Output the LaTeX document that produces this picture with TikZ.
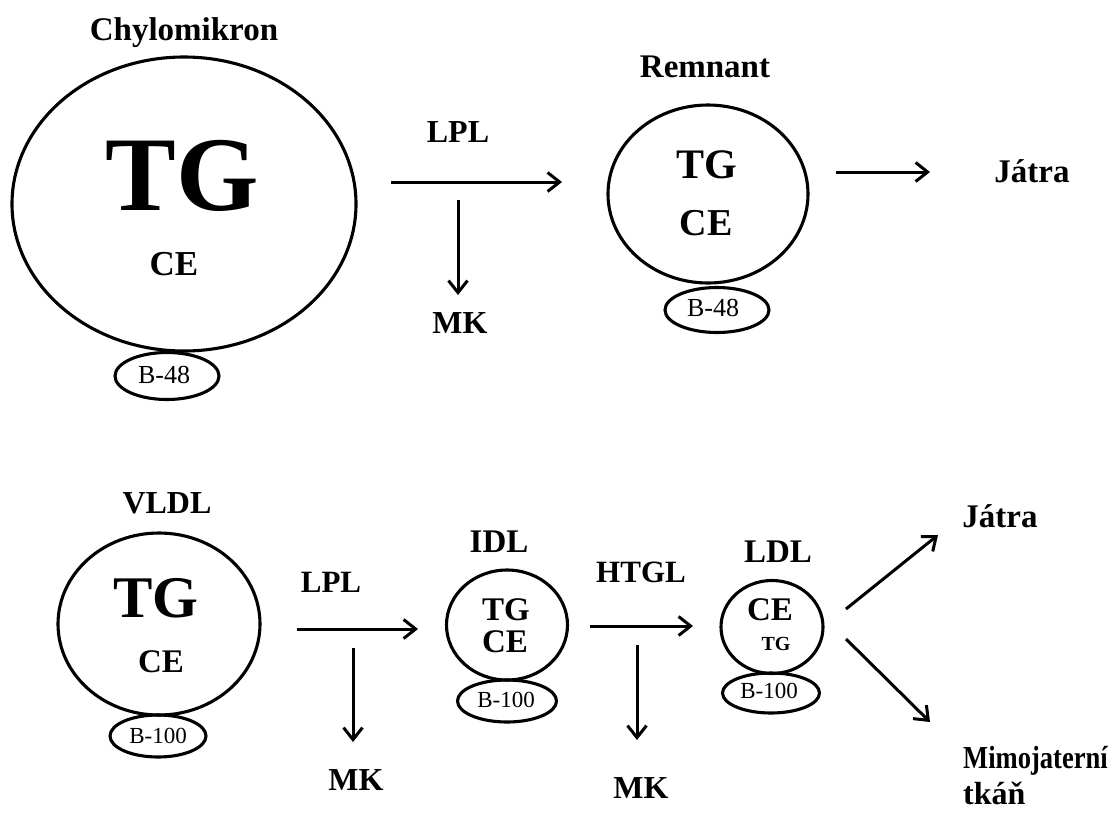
\documentclass[tikz,border=0pt]{standalone}
\usepackage{fontspec}
\setmainfont{Liberation Serif}
\usetikzlibrary{arrows.meta,shapes.geometric}
\begin{document}
\begin{tikzpicture}[x=1pt,y=-1pt,
  lbl/.style={anchor=base,inner sep=0pt,font=\bfseries\fontsize{#1}{#1}\selectfont},
  apo/.style={anchor=base,inner sep=0pt,font=\fontsize{#1}{#1}\selectfont},
  part/.style={draw,ellipse,line width=3.1pt,inner sep=0pt},
  flow/.style={line width=3pt,-{Straight Barb[length=12pt,width=19pt,line width=3pt]}}]
\useasboundingbox (0,0) rectangle (1111,812);
% ---------- top row ----------
\node[part,minimum width=344pt,minimum height=294pt] (chylo) at (184,204) {};
\node[part,minimum width=104pt,minimum height=47pt] (chyloB) at (167,376) {};
\node[lbl=33] (chyloT) at (184,40) {Chylomikron};
\node[lbl=106] (chyloTG) at (182,210) {TG};
\node[lbl=35] (chyloCE) at (174,275) {CE};
\node[apo=26] (chyloBt) at (164,383) {B-48};

\node[part,minimum width=200pt,minimum height=178pt] (rem) at (708,194) {};
\node[part,minimum width=104pt,minimum height=45pt] (remB) at (717,310) {};
\node[lbl=33] (remT) at (705,77) {Remnant};
\node[lbl=42] (remTG) at (707,178) {TG};
\node[lbl=38] (remCE) at (706,235) {CE};
\node[apo=26] (remBt) at (713,316) {B-48};

\node[lbl=32] (lpl1) at (458,142) {LPL};
\node[lbl=32] (mk1) at (460,333) {MK};
\node[lbl=33] (jat1) at (1032,182) {Játra};

\coordinate (a1s) at (391,182); \coordinate (a1e) at (562,182);
\coordinate (a2s) at (458,200); \coordinate (a2e) at (458,295);
\coordinate (a3s) at (836,172); \coordinate (a3e) at (930,172);
\draw[flow] (a1s) -- (a1e);
\draw[flow] (a2s) -- (a2e);
\draw[flow] (a3s) -- (a3e);
% ---------- bottom row ----------
\node[part,minimum width=202pt,minimum height=182pt] (vldl) at (159,624) {};
\node[part,minimum width=96pt,minimum height=42pt] (vldlB) at (158,736) {};
\node[lbl=32] (vldlT) at (167,513) {VLDL};
\node[lbl=59] (vldlTG) at (156,617) {TG};
\node[lbl=33] (vldlCE) at (161,672) {CE};
\node[apo=23] (vldlBt) at (158,743) {B-100};

\node[part,minimum width=121pt,minimum height=110pt] (idl) at (507,625) {};
\node[part,minimum width=99pt,minimum height=42pt] (idlB) at (507,701) {};
\node[lbl=33] (idlT) at (499,552) {IDL};
\node[lbl=33] (idlTG) at (506,620) {TG};
\node[lbl=33] (idlCE) at (505,652) {CE};
\node[apo=23] (idlBt) at (506,707) {B-100};

\node[part,minimum width=102pt,minimum height=93pt] (ldl) at (772,627) {};
\node[part,minimum width=97pt,minimum height=40pt] (ldlB) at (771,693) {};
\node[lbl=33] (ldlT) at (778,562) {LDL};
\node[lbl=33] (ldlCE) at (770,620) {CE};
\node[lbl=20] (ldlTG) at (776,650) {TG};
\node[apo=23] (ldlBt) at (769,698) {B-100};

\node[lbl=31] (lpl2) at (331,592) {LPL};
\node[lbl=32] (mk2) at (356,790) {MK};
\node[lbl=31] (htgl) at (641,582) {HTGL};
\node[lbl=32] (mk3) at (641,798) {MK};
\node[lbl=33] (jat2) at (1000,527) {Játra};
\node[lbl=32,anchor=base west] (mimo) at (963,768) {\scalebox{0.83}[1]{Mimojaterní}};
\node[lbl=32,anchor=base west] (tkan) at (963,804) {tkáň};

\coordinate (b1s) at (297,629); \coordinate (b1e) at (418,629);
\coordinate (b2s) at (353,648); \coordinate (b2e) at (353,742);
\coordinate (b3s) at (590,626); \coordinate (b3e) at (693,626);
\coordinate (b4s) at (637,645); \coordinate (b4e) at (637,740);
\coordinate (b5s) at (846,609); \coordinate (b5e) at (938,535);
\coordinate (b6s) at (846,639); \coordinate (b6e) at (930,722);
\draw[flow] (b1s) -- (b1e);
\draw[flow] (b2s) -- (b2e);
\draw[flow] (b3s) -- (b3e);
\draw[flow] (b4s) -- (b4e);
\draw[flow] (b5s) -- (b5e);
\draw[flow] (b6s) -- (b6e);
\end{tikzpicture}
\end{document}
